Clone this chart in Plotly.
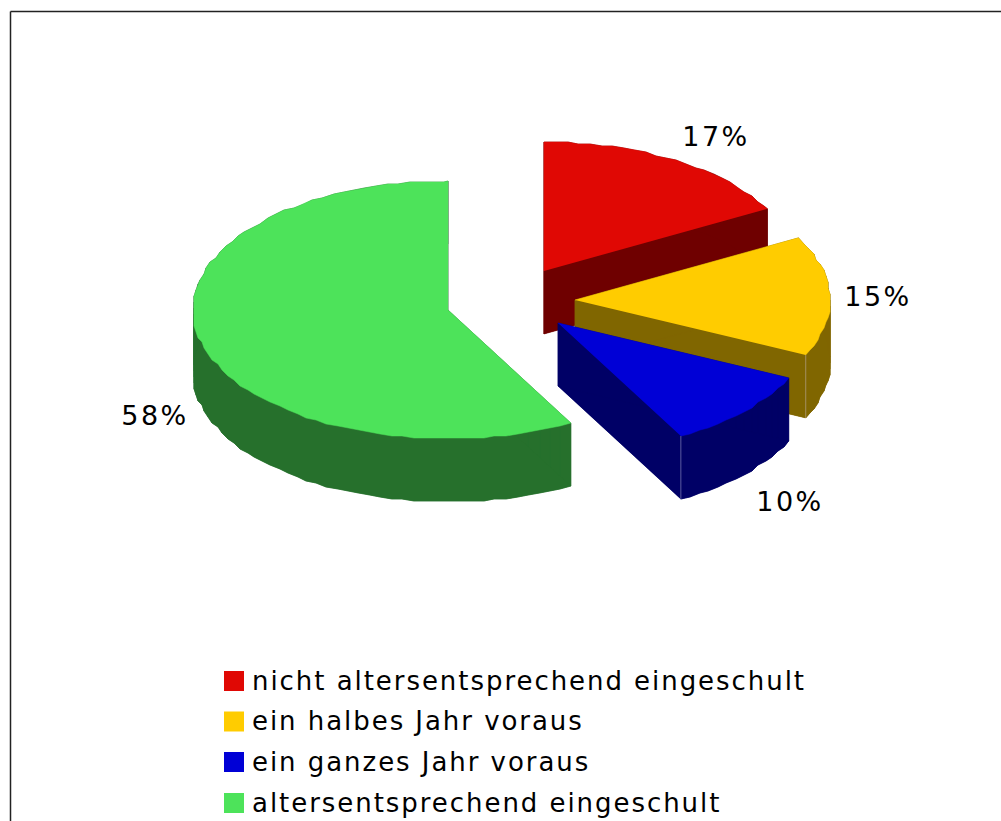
import numpy as np
import plotly.graph_objects as go

labels = ["nicht altersentsprechend eingeschult", "ein halbes Jahr voraus",
          "ein ganzes Jahr voraus", "altersentsprechend eingeschult"]
values = [17, 15, 10, 58]
top_colors = ["#E00804", "#FFCC00", "#0000D6", "#4DE35A"]
side_colors = ["#6F0000", "#806600", "#000066", "#26702C"]
edge_colors = ["#8A4A4A", "#A39060", "#5A5AA0", "#5A9060"]

apex_x = [544, 575, 558, 448]
apex_y = [271, 300, 323, 310]
label_x = [716, 878, 790, 155]
label_y = [139, 299, 504, 418]
RX, RY, DEPTH = 255, 129, 63
GRID = 2.0
FONT = "DejaVu Sans"

fig = go.Figure()
start = 0.0
total = sum(values)


def poly(xs, ys, color):
    fig.add_trace(go.Scatter(x=xs, y=ys, mode="lines", fill="toself", fillcolor=color,
                             line=dict(color=color, width=0.5), hoverinfo="skip", showlegend=False))


for i, v in enumerate(values):
    end = start + 360.0 * v / total
    a = np.radians(np.arange(start, end, 2.6))
    a = np.append(a, np.radians(end))
    ax = apex_x[i] + RX * np.sin(a)
    ay = apex_y[i] - RY * np.cos(a)
    # slightly stepped rim, as in the reference
    inner = np.arange(1, len(a) - 1)
    ax[inner] = np.round(ax[inner] / GRID) * GRID
    ay[inner] = np.round(ay[inner] / GRID) * GRID
    ox = np.concatenate([[apex_x[i]], ax])
    oy = np.concatenate([[apex_y[i]], ay])
    # side: sweep of the outline downwards
    n = len(ox)
    for j in range(n):
        k = (j + 1) % n
        poly([ox[j], ox[k], ox[k], ox[j], ox[j]],
             [oy[j], oy[k], oy[k] + DEPTH, oy[j] + DEPTH, oy[j]], side_colors[i])
    poly(ox, oy + DEPTH, side_colors[i])
    poly(ox, oy, top_colors[i])
    # fine light edge at the front corner of the cut face
    if i in (1, 2):
        fig.add_trace(go.Scatter(x=[ax[-1], ax[-1]], y=[ay[-1], ay[-1] + DEPTH], mode="lines",
                                 line=dict(color=edge_colors[i], width=1),
                                 hoverinfo="skip", showlegend=False))
    start = end

# percent labels
fig.add_trace(go.Scatter(x=label_x, y=label_y, mode="text",
                         text=[f"{v}%" for v in values], textposition="middle center",
                         textfont=dict(family=FONT, size=27, color="#000000"),
                         hoverinfo="skip", showlegend=False))

# legend
leg_y = [683, 723.5, 764, 805]
swatch_y = [681, 721.5, 762, 803]
fig.add_trace(go.Scatter(x=[234] * 4, y=swatch_y, mode="markers",
                         marker=dict(symbol="square", size=20, color=top_colors, line=dict(width=0)),
                         hoverinfo="skip", showlegend=False))
fig.add_trace(go.Scatter(x=[252] * 4, y=leg_y, mode="text", text=labels, textposition="middle right",
                         textfont=dict(family=FONT, size=26, color="#000000"),
                         hoverinfo="skip", showlegend=False))

# frame (open to the right and bottom)
fig.add_shape(type="line", x0=10.5, x1=1001, y0=11.5, y1=11.5, line=dict(color="#222222", width=1.5))
fig.add_shape(type="line", x0=10.5, x1=10.5, y0=11.5, y1=821, line=dict(color="#222222", width=1.5))

fig.update_layout(width=1001, height=821, margin=dict(l=0, r=0, t=0, b=0),
                  paper_bgcolor="white", plot_bgcolor="white", showlegend=False,
                  xaxis=dict(range=[0, 1001], visible=False, fixedrange=True),
                  yaxis=dict(range=[821, 0], visible=False, fixedrange=True))

post = """
document.body.style.margin = '0';
document.querySelectorAll('.textpoint text').forEach(function (t) {
  t.style.letterSpacing = /%$/.test(t.textContent) ? '2.5px' : '1.95px';
});
"""
fig.write_html("out.html", post_script=post, config={"displayModeBar": False})
